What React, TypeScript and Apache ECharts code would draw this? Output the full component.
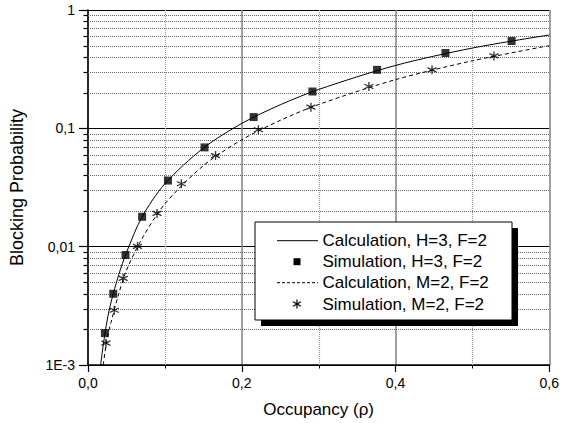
import React, { useEffect, useRef } from "react";
import * as echarts from "echarts";

// Simulation, H=3, F=2 (squares)
const simHx = [0.022, 0.0328, 0.0488, 0.0704, 0.104, 0.1516, 0.2155, 0.292, 0.376, 0.465, 0.551];
const simHy = [0.00186, 0.004, 0.0085, 0.0179, 0.0362, 0.069, 0.1245, 0.2047, 0.312, 0.433, 0.547];
// Simulation, M=2, F=2 (stars)
const simMx = [0.0233, 0.0341, 0.0458, 0.0644, 0.0898, 0.1214, 0.1659, 0.2216, 0.29, 0.3654, 0.4475, 0.528];
const simMy = [0.00153, 0.0029, 0.0054, 0.01006, 0.0191, 0.034, 0.0588, 0.0973, 0.151, 0.2256, 0.312, 0.409];
// Calculation, H=3, F=2 (solid)
const calcHx = [0.0164, 0.02, 0.025, 0.03, 0.04, 0.05, 0.07, 0.1, 0.15, 0.2, 0.25, 0.3, 0.4, 0.5, 0.6];
const calcHy = [0.001, 0.0015, 0.0024, 0.0034, 0.0058, 0.0089, 0.0177, 0.034, 0.068, 0.11, 0.158, 0.213, 0.34, 0.477, 0.615];
// Calculation, M=2, F=2 (dashed)
const calcMx = [0.0198, 0.025, 0.03, 0.04, 0.05, 0.07, 0.1, 0.15, 0.2, 0.25, 0.3, 0.4, 0.5, 0.6];
const calcMy = [0.001, 0.0017, 0.0023, 0.004, 0.0063, 0.0116, 0.023, 0.0483, 0.08, 0.1167, 0.159, 0.258, 0.372, 0.5];

const yMinorValues = [
  0.002, 0.003, 0.004, 0.005, 0.006, 0.007, 0.008, 0.009,
  0.02, 0.03, 0.04, 0.05, 0.06, 0.07, 0.08, 0.09,
  0.2, 0.3, 0.4, 0.5, 0.6, 0.7, 0.8, 0.9,
];
const xMinorValues = [0.1, 0.3, 0.5];

const legendNames = [
  "Calculation, H=3, F=2",
  "Simulation, H=3, F=2",
  "Calculation, M=2, F=2",
  "Simulation, M=2, F=2",
];

const zip = (xs: number[], ys: number[]) => xs.map((x, i) => [x, ys[i]]);

const FONT = "'Liberation Sans', Arial, sans-serif";
const STAR = "path://M0,-10 L0,10 M-8.66,-5 L8.66,5 M-8.66,5 L8.66,-5";

export default function App() {
  const ref = useRef<HTMLDivElement>(null);
  useEffect(() => {
    if (!ref.current) return;
    const chart = echarts.init(ref.current, undefined, { renderer: "svg" });

    const lx = 255, ly = 222, lw = 257, lh = 98;
    const rowY = [240.7, 261.7, 282.7, 304];
    const sx = 297, sr = 4.5;

    const option: any = {
      animation: false,
      backgroundColor: "#fff",
      grid: { left: 88, right: 11, top: 10, bottom: 57, containLabel: false },
      xAxis: {
        type: "value",
        min: 0,
        max: 0.6,
        interval: 0.2,
        name: "Occupancy (\u03c1)",
        nameLocation: "middle",
        nameGap: 36,
        nameTextStyle: { fontFamily: FONT, fontSize: 17, color: "#000" },
        axisLine: { show: true, lineStyle: { color: "#000", width: 1.5 } },
        axisTick: { show: true, inside: false, length: 7, lineStyle: { color: "#000", width: 1.2 } },
        minorTick: { show: false },
        axisLabel: {
          fontFamily: FONT, fontSize: 14, color: "#000", margin: 11,
          formatter: (v: number) => v.toFixed(1).replace(".", ","),
        },
        splitLine: { show: true, lineStyle: { color: "#808080", width: 1.5 } },
        minorSplitLine: { show: false },
      },
      yAxis: {
        type: "log",
        logBase: 10,
        min: 0.001,
        max: 1,
        name: "Blocking Probability",
        nameLocation: "middle",
        nameGap: 62,
        nameTextStyle: { fontFamily: FONT, fontSize: 18, color: "#000" },
        axisLine: { show: true, lineStyle: { color: "#000", width: 1.5 } },
        axisTick: { show: true, inside: false, length: 9, lineStyle: { color: "#000", width: 1.2 } },
        minorTick: { show: false },
        axisLabel: {
          fontFamily: FONT, fontSize: 14, color: "#000", margin: 13,
          formatter: (v: number) => {
            if (v >= 0.999) return "1";
            if (Math.abs(v - 0.1) < 1e-9) return "0,1";
            if (Math.abs(v - 0.01) < 1e-9) return "0,01";
            if (Math.abs(v - 0.001) < 1e-9) return "1E-3";
            return "";
          },
        },
        splitLine: { show: true, lineStyle: { color: "#000", width: 1 } },
        minorSplitLine: { show: false },
      },
      series: [
        {
          type: "custom",
          name: "yMinorGrid",
          silent: true,
          z: 1,
          clip: false,
          data: yMinorValues.map((v) => [0, v]),
          encode: { x: 0, y: 1 },
          renderItem: (params: any, api: any) => {
            const v = api.value(1);
            const p = api.coord([0, v]);
            const cs = params.coordSys;
            const y = Math.round(p[1]) + 0.5;
            return {
              type: "group",
              children: [
                { type: "line", shape: { x1: cs.x, y1: y, x2: cs.x + cs.width, y2: y }, style: { stroke: "#666", lineWidth: 1, lineDash: [1, 1] } },
                { type: "line", shape: { x1: cs.x - 4.5, y1: y, x2: cs.x, y2: y }, style: { stroke: "#000", lineWidth: 1.2 } },
              ],
            };
          },
        },
        {
          type: "custom",
          name: "xMinorGrid",
          silent: true,
          z: 1,
          clip: false,
          data: xMinorValues.map((v) => [v, 0.001]),
          encode: { x: 0, y: 1 },
          renderItem: (params: any, api: any) => {
            const v = api.value(0);
            const p = api.coord([v, 0.001]);
            const cs = params.coordSys;
            const x = Math.round(p[0]) + 0.5;
            return {
              type: "group",
              children: [
                { type: "line", shape: { x1: x, y1: cs.y, x2: x, y2: cs.y + cs.height }, style: { stroke: "#999", lineWidth: 1.2, lineDash: [1, 1] } },
                { type: "line", shape: { x1: x, y1: cs.y + cs.height, x2: x, y2: cs.y + cs.height + 3.5 }, style: { stroke: "#000", lineWidth: 1 } },
              ],
            };
          },
        },
        {
          type: "line",
          name: legendNames[0],
          data: zip(calcHx, calcHy),
          showSymbol: false,
          smooth: 0.3,
          lineStyle: { color: "#000", width: 1 },
          z: 3,
        },
        {
          type: "line",
          name: legendNames[2],
          data: zip(calcMx, calcMy),
          showSymbol: false,
          smooth: 0.3,
          lineStyle: { color: "#000", width: 1, type: [4, 3] },
          z: 3,
        },
        {
          type: "scatter",
          name: legendNames[1],
          data: zip(simHx, simHy),
          symbol: "rect",
          symbolSize: 8,
          itemStyle: { color: "#000" },
          z: 4,
        },
        {
          type: "scatter",
          name: legendNames[3],
          data: zip(simMx, simMy),
          symbol: STAR,
          symbolSize: 9,
          itemStyle: { color: "none", borderColor: "#000", borderWidth: 1.3 },
          z: 4,
        },
      ],
      graphic: [
        { type: "rect", z: 50, shape: { x: lx + 6, y: ly + 6, width: lw, height: lh }, style: { fill: "#000" } },
        { type: "rect", z: 51, shape: { x: lx, y: ly, width: lw, height: lh }, style: { fill: "#fff", stroke: "#000", lineWidth: 1 } },
        { type: "line", z: 52, shape: { x1: 277, y1: rowY[0], x2: 318, y2: rowY[0] }, style: { stroke: "#000", lineWidth: 1 } },
        { type: "rect", z: 52, shape: { x: 293.5, y: rowY[1] - 3.5, width: 7, height: 7 }, style: { fill: "#000" } },
        { type: "line", z: 52, shape: { x1: 277, y1: rowY[2], x2: 318, y2: rowY[2] }, style: { stroke: "#000", lineWidth: 1, lineDash: [3, 2] } },
        { type: "line", z: 52, shape: { x1: sx, y1: rowY[3] - sr, x2: sx, y2: rowY[3] + sr }, style: { stroke: "#000", lineWidth: 1.2 } },
        { type: "line", z: 52, shape: { x1: sx - sr * 0.866, y1: rowY[3] - sr / 2, x2: sx + sr * 0.866, y2: rowY[3] + sr / 2 }, style: { stroke: "#000", lineWidth: 1.2 } },
        { type: "line", z: 52, shape: { x1: sx - sr * 0.866, y1: rowY[3] + sr / 2, x2: sx + sr * 0.866, y2: rowY[3] - sr / 2 }, style: { stroke: "#000", lineWidth: 1.2 } },
        ...legendNames.map((t, i) => ({
          type: "text",
          z: 52,
          x: 322.5,
          y: rowY[i],
          style: { text: t, fontFamily: FONT, fontSize: 17, fill: "#000", verticalAlign: "middle" },
        })),
      ],
    };
    chart.setOption(option);
    return () => chart.dispose();
  }, []);
  return <div ref={ref} style={{ position: "absolute", left: 0, top: 0, width: 562, height: 423 }} />;
}
